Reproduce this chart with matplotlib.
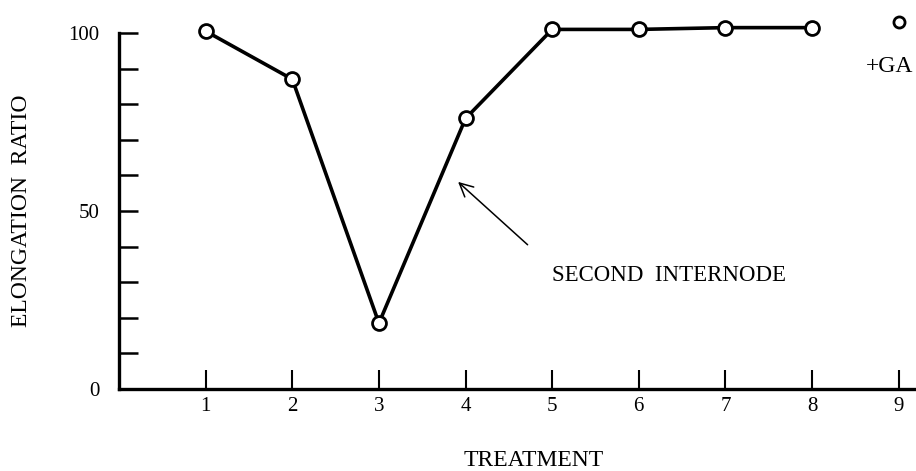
import matplotlib
matplotlib.use("Agg")
import matplotlib.pyplot as plt

treatment = [1, 2, 3, 4, 5, 6, 7, 8]
ratio = [100.5, 87, 18.5, 76, 101, 101, 101.5, 101.5]
ga_treatment = [9]
ga_ratio = [103]

plt.rcParams['font.family'] = ['Liberation Serif', 'DejaVu Serif']

fig = plt.figure(figsize=(9.16, 4.71), dpi=100)
ax = fig.add_axes([0.130, 0.174, 0.870, 0.756])

ax.plot(treatment, ratio, color='black', lw=2.6, marker='o', ms=10,
        mfc='white', mec='black', mew=2, clip_on=False, zorder=3)
ax.plot(ga_treatment, ga_ratio, ls='none', marker='o', ms=8,
        mfc='white', mec='black', mew=2, clip_on=False, zorder=3)
ax.text(8.9, 90.5, '+GA', fontsize=17, ha='center', va='center')

ax.annotate('', xy=(3.89, 58.7), xytext=(4.74, 40),
            arrowprops=dict(arrowstyle='->', color='black', lw=1.1,
                            mutation_scale=24))
ax.text(5.0, 32, 'SECOND  INTERNODE', fontsize=16.5, ha='left', va='center')

ax.set_xlim(0, 9.2)
ax.set_ylim(0, 100)
ax.set_xticks(range(1, 10))
ax.set_yticks([0, 50, 100])
ax.set_yticks(range(10, 100, 10), minor=True)
ax.tick_params(axis='both', which='both', direction='in', width=1.8,
               labelsize=15, color='black')
ax.tick_params(axis='y', which='both', length=14, pad=14)
ax.tick_params(axis='x', length=14, width=1.5, pad=6)

for s in ['top', 'right']:
    ax.spines[s].set_visible(False)
for s in ['left', 'bottom']:
    ax.spines[s].set_linewidth(2.4)

ax.set_xlabel('TREATMENT', fontsize=17)
ax.xaxis.set_label_coords(0.52, -0.20)
ax.xaxis.label.set_va('center')
ax.set_ylabel('ELONGATION  RATIO', fontsize=17)
ax.yaxis.set_label_coords(-0.122, 0.5)
ax.yaxis.label.set_va('center')

fig.savefig('out.png', dpi=100)
